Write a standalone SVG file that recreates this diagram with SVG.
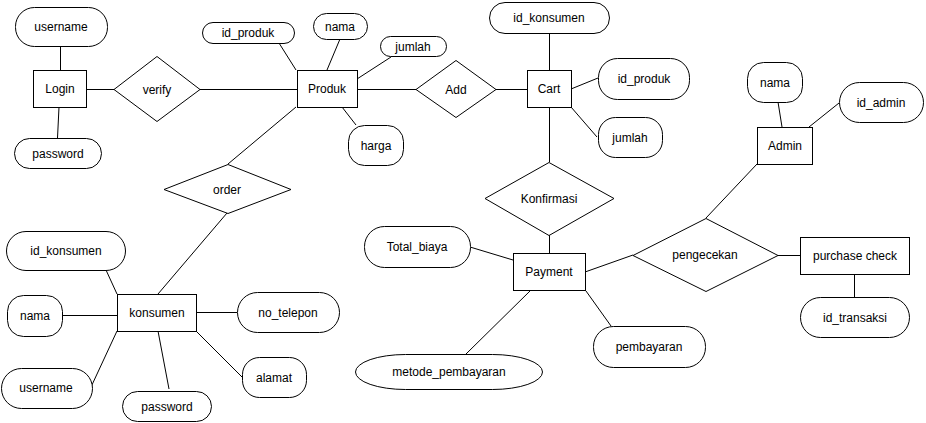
<svg xmlns="http://www.w3.org/2000/svg" width="926" height="423" viewBox="0 0 926 423">
<style>
  .e{fill:#fff;stroke:#000;stroke-width:1}
  .a{fill:#fff;stroke:#000;stroke-width:1}
  .r{fill:#fff;stroke:#000;stroke-width:1}
  .c line{stroke:#000;stroke-width:1}
  text{font-family:"Liberation Sans",Arial,sans-serif;font-size:12px;fill:#000;text-anchor:middle}
</style>
<rect width="926" height="423" fill="#fff"/>
<g class="c" id="connectors">
  <line x1="60.5" y1="46" x2="60.5" y2="70"/>
  <line x1="59" y1="107" x2="57.5" y2="138"/>
  <line x1="86" y1="89.5" x2="114" y2="89.5"/>
  <line x1="200" y1="89.5" x2="297" y2="89.5"/>
  <line x1="279" y1="43" x2="296" y2="70"/>
  <line x1="340" y1="39" x2="327" y2="70"/>
  <line x1="391" y1="57" x2="357" y2="79"/>
  <line x1="342" y1="107" x2="356" y2="125"/>
  <line x1="357" y1="89.5" x2="416" y2="89.5"/>
  <line x1="496" y1="89.5" x2="527" y2="89.5"/>
  <line x1="549.5" y1="33" x2="549.5" y2="70"/>
  <line x1="571" y1="89" x2="598" y2="78"/>
  <line x1="571" y1="107" x2="597" y2="137"/>
  <line x1="549.5" y1="107" x2="549.5" y2="162"/>
  <line x1="549.5" y1="235" x2="549.5" y2="253"/>
  <line x1="470" y1="247" x2="513" y2="260"/>
  <line x1="531" y1="290" x2="466" y2="354"/>
  <line x1="586" y1="291" x2="611" y2="326"/>
  <line x1="585" y1="272" x2="633" y2="255"/>
  <line x1="778" y1="255.5" x2="800" y2="255.5"/>
  <line x1="854.5" y1="274" x2="854.5" y2="297"/>
  <line x1="706" y1="218" x2="757" y2="164"/>
  <line x1="778" y1="102" x2="782" y2="127"/>
  <line x1="809" y1="127" x2="839" y2="103"/>
  <line x1="296" y1="107" x2="228" y2="164"/>
  <line x1="227" y1="213" x2="158" y2="294"/>
  <line x1="106" y1="270" x2="117" y2="294"/>
  <line x1="62" y1="315.5" x2="117" y2="315.5"/>
  <line x1="117" y1="331" x2="91" y2="387"/>
  <line x1="158" y1="331" x2="169" y2="389"/>
  <line x1="196" y1="312.5" x2="237" y2="312.5"/>
  <line x1="196" y1="331" x2="242" y2="377"/>
</g>
<g id="username1"><rect class="a" x="15.5" y="7.5" width="92" height="39" rx="19"/><text x="61" y="31">username</text></g>
<g id="login"><rect class="e" x="33.5" y="70.5" width="53" height="37"/><text x="60" y="93">Login</text></g>
<g id="password1"><rect class="a" x="14.5" y="138.5" width="87" height="30" rx="15"/><text x="58" y="158">password</text></g>
<g id="verify"><polygon class="r" points="157,56.5 200,89.5 157,121.5 114,89.5"/><text x="157" y="94">verify</text></g>
<g id="id_produk1"><rect class="a" x="202.5" y="22.5" width="92" height="21" rx="10.5"/><text x="248" y="37">id_produk</text></g>
<g id="nama1"><rect class="a" x="313.5" y="13.5" width="54" height="26" rx="13"/><text x="340" y="31">nama</text></g>
<g id="jumlah1"><rect class="a" x="380.5" y="36.5" width="66" height="20" rx="10"/><text x="413" y="51">jumlah</text></g>
<g id="produk"><rect class="e" x="297.5" y="70.5" width="60" height="37"/><text x="327" y="93">Produk</text></g>
<g id="harga"><rect class="a" x="348.5" y="125.5" width="55" height="40" rx="16"/><text x="376" y="150">harga</text></g>
<g id="add"><polygon class="r" points="456,60.5 496,89.5 456,117.5 416,89.5"/><text x="456" y="94">Add</text></g>
<g id="cart"><rect class="e" x="527.5" y="70.5" width="44" height="37"/><text x="549" y="93">Cart</text></g>
<g id="id_konsumen1"><rect class="a" x="489.5" y="2.5" width="120" height="31" rx="15.5"/><text x="549" y="22">id_konsumen</text></g>
<g id="id_produk2"><rect class="a" x="598.5" y="58.5" width="91" height="41" rx="19"/><text x="644" y="83">id_produk</text></g>
<g id="jumlah2"><rect class="a" x="598.5" y="117.5" width="64" height="40" rx="17"/><text x="630" y="142">jumlah</text></g>
<g id="konfirmasi"><polygon class="r" points="549,162.5 614,198.5 549,235.5 485,198.5"/><text x="549" y="203">Konfirmasi</text></g>
<g id="payment"><rect class="e" x="513.5" y="253.5" width="72" height="37"/><text x="549" y="276">Payment</text></g>
<g id="total_biaya"><rect class="a" x="364.5" y="226.5" width="106" height="41" rx="20"/><text x="417" y="251">Total_biaya</text></g>
<g id="metode_pembayaran"><rect class="a" x="355.5" y="354.5" width="187" height="35" rx="50" ry="17.5"/><text x="449" y="376">metode_pembayaran</text></g>
<g id="pembayaran"><rect class="a" x="593.5" y="326.5" width="112" height="41" rx="20"/><text x="649" y="351">pembayaran</text></g>
<g id="pengecekan"><polygon class="r" points="706,218.5 778,255.5 706,291.5 633,255.5"/><text x="705" y="259">pengecekan</text></g>
<g id="purchase_check"><rect class="e" x="800.5" y="237.5" width="109" height="37"/><text x="855" y="260">purchase check</text></g>
<g id="id_transaksi"><rect class="a" x="800.5" y="297.5" width="109" height="40" rx="20"/><text x="855" y="322">id_transaksi</text></g>
<g id="admin"><rect class="e" x="757.5" y="127.5" width="55" height="37"/><text x="785" y="150">Admin</text></g>
<g id="nama2"><rect class="a" x="747.5" y="62.5" width="55" height="40" rx="16"/><text x="775" y="87">nama</text></g>
<g id="id_admin"><rect class="a" x="839.5" y="82.5" width="84" height="40" rx="20"/><text x="881" y="107">id_admin</text></g>
<g id="order"><polygon class="r" points="228,164.5 291,189.5 228,213.5 164,189.5"/><text x="227" y="194">order</text></g>
<g id="konsumen"><rect class="e" x="117.5" y="294.5" width="79" height="37"/><text x="157" y="317">konsumen</text></g>
<g id="id_konsumen2"><rect class="a" x="6.5" y="231.5" width="119" height="39" rx="19.5"/><text x="66" y="255">id_konsumen</text></g>
<g id="nama3"><rect class="a" x="7.5" y="295.5" width="55" height="41" rx="16"/><text x="35" y="320">nama</text></g>
<g id="username2"><rect class="a" x="1.5" y="368.5" width="91" height="40" rx="20"/><text x="46" y="392">username</text></g>
<g id="password2"><rect class="a" x="122.5" y="391.5" width="89" height="30" rx="15"/><text x="167" y="411">password</text></g>
<g id="no_telepon"><rect class="a" x="237.5" y="292.5" width="102" height="40" rx="20"/><text x="288" y="317">no_telepon</text></g>
<g id="alamat"><rect class="a" x="242.5" y="357.5" width="64" height="40" rx="17"/><text x="274" y="382">alamat</text></g>
</svg>
